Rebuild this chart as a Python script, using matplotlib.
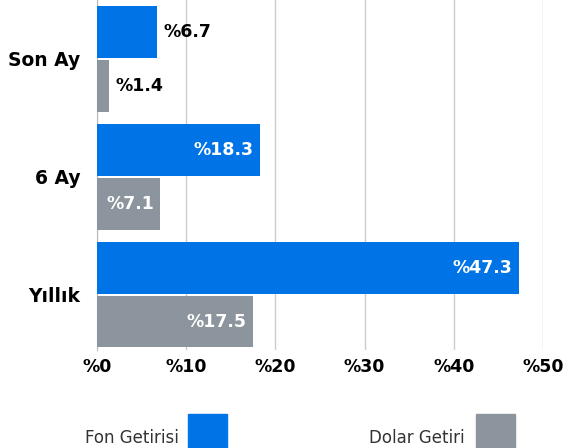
import numpy as np
import matplotlib
matplotlib.use("Agg")
import matplotlib.pyplot as plt
from matplotlib.patches import Rectangle

categories = ["Son Ay", "6 Ay", "Yıllık"]
fon = [6.7, 18.3, 47.3]
dolar = [1.4, 7.1, 17.5]
xticks = [0, 10, 20, 30, 40, 50]
series_names = ["Fon Getirisi", "Dolar Getiri"]

BLUE = "#0073E6"
GRAY = "#8C959D"

plt.rcParams["font.family"] = "DejaVu Sans"

fig = plt.figure(figsize=(5.66, 4.48), dpi=100)
ax = fig.add_axes([97 / 566, 1 - 350 / 448, 446 / 566, 350 / 448])

y = np.arange(len(categories))
h = 0.44
gap = 0.017
yb = y - h / 2 - gap / 2
yg = y + h / 2 + gap / 2
ax.barh(yb, fon, height=h, color=BLUE, zorder=3)
ax.barh(yg, dolar, height=h, color=GRAY, zorder=3)

# value labels: inside (white) when the bar is wide enough, else outside (black)
for vals, ypos, lim in [(fon, yb, 10), (dolar, yg, 5)]:
    for v, yy in zip(vals, ypos):
        inside = v > lim
        ax.text(v - 0.7 if inside else v + 0.7, yy, f"%{v:.1f}",
                ha="right" if inside else "left", va="center",
                color="white" if inside else "black",
                fontsize=12.5, fontweight="bold", zorder=4)

ax.set_xlim(0, 50)
ax.set_ylim(2.47, -0.5)
ax.set_xticks(xticks)
ax.set_xticklabels([f"%{t}" for t in xticks], fontsize=12.5, fontweight="bold")
ax.set_yticks(y)
ax.set_yticklabels(categories, fontsize=13.5, fontweight="bold")
ax.tick_params(axis="y", length=0, pad=12)
ax.tick_params(axis="x", length=0, pad=6)
ax.grid(axis="x", color="#cccccc", lw=1, zorder=0)
for s in ["top", "right", "bottom"]:
    ax.spines[s].set_visible(False)
ax.spines["left"].set_color("#bbbbbb")

# legend: text followed by a square
fig.text(179 / 566, 1 - 438 / 448, series_names[0], ha="right", va="center",
         fontsize=12, color="#333333")
fig.patches.append(Rectangle((188 / 566, 0), 39 / 566, 34 / 448,
                             transform=fig.transFigure, color=BLUE))
fig.text(465 / 566, 1 - 438 / 448, series_names[1], ha="right", va="center",
         fontsize=12, color="#333333")
fig.patches.append(Rectangle((476 / 566, 0), 39 / 566, 34 / 448,
                             transform=fig.transFigure, color=GRAY))

fig.savefig("out.png", dpi=100)
